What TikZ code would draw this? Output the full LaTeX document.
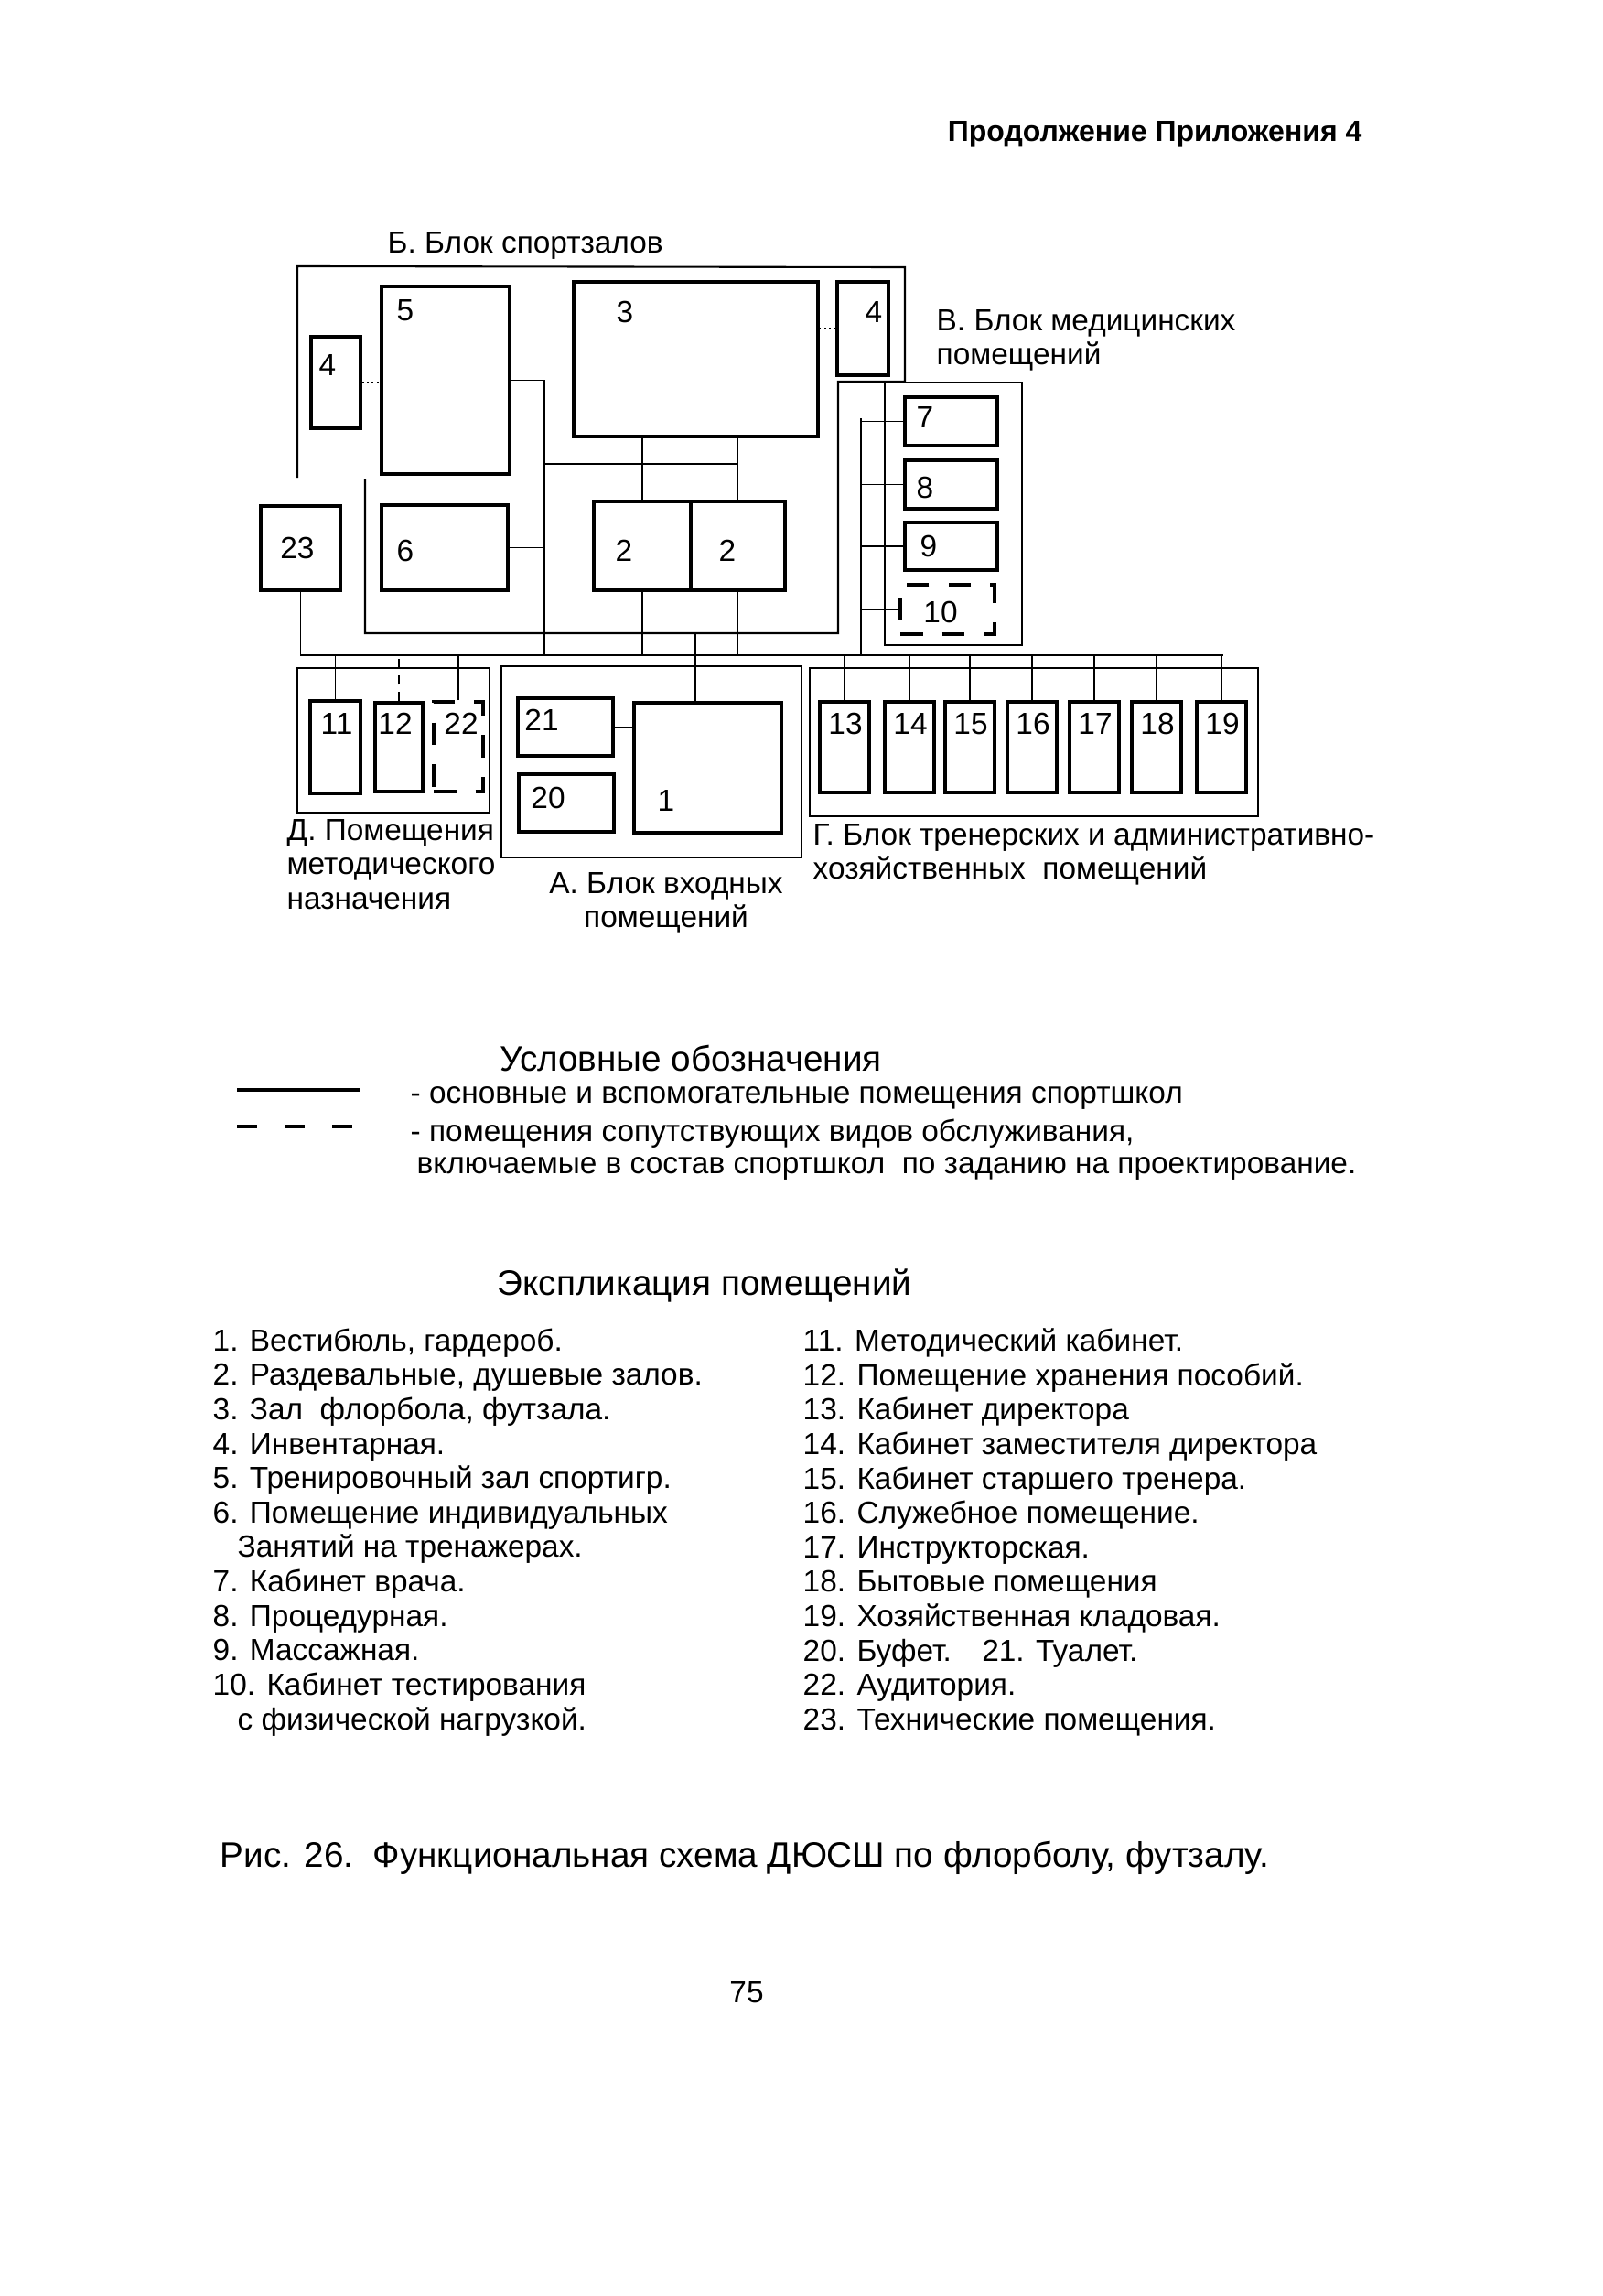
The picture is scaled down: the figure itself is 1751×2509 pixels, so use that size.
\documentclass[tikz,border=0pt]{standalone}
\usepackage{fontspec}
\setmainfont{Liberation Sans}
\usetikzlibrary{fit}

\tikzset{
  room/.style={draw, line width=1.1pt, inner sep=0pt},
  extraroom/.style={room, dash pattern=on 7pt off 6pt},
  blockframe/.style={draw, line width=0.6pt, inner sep=0pt},
  wire/.style={line width=0.5pt},
  num/.style={font=\fontsize{9.5}{11}\selectfont, inner sep=0pt},
  txt/.style={font=\fontsize{9.5}{10.6}\selectfont, inner sep=0pt, align=left},
  big/.style={font=\fontsize{11}{13}\selectfont, inner sep=0pt},
}

\begin{document}
\begin{tikzpicture}[x=0.01cm,y=-0.01cm]
  \fill[white] (0,0) rectangle (1751,2509);
  \useasboundingbox (0,0) rectangle (1751,2509);

  \node[anchor=east, font=\bfseries\fontsize{9.1}{11}\selectfont, inner sep=0pt] (head) at (1489,147) {Продолжение Приложения 4};

  % block frames
  \draw[line width=0.6pt] (325,522) -- (325,291) -- (989,292) -- (989,417) -- (916,417)
    -- (916,692) -- (399,692) -- (399,523);
  \node[blockframe, fit={(967,418) (1117,705)}] (blkV) {};
  \node[blockframe, fit={(325,730) (535,888)}] (blkD) {};
  \node[blockframe, fit={(548,728) (876,937)}] (blkA) {};
  \node[blockframe, fit={(885,730) (1375,892)}] (blkG) {};

  % rooms
  \node[room, fit={(340,368) (394,468)}] (r4a) {};
  \node[room, fit={(417,313) (557,518)}] (r5) {};
  \node[room, fit={(627,308) (894,477)}] (r3) {};
  \node[room, fit={(915,308) (971,410)}] (r4b) {};
  \node[room, fit={(649,548) (755,645)}] (r2a) {};
  \node[room, fit={(755,548) (858,645)}] (r2b) {};
  \node[room, fit={(417,552) (555,645)}] (r6) {};
  \node[room, fit={(285,553) (372,645)}] (r23) {};
  \node[room, fit={(989,434) (1090,487)}] (r7) {};
  \node[room, fit={(989,503) (1090,556)}] (r8) {};
  \node[room, fit={(989,571) (1090,623)}] (r9) {};
  \node[extraroom, fit={(984,639) (1087,693)}] (r10) {};
  \node[room, fit={(339,766) (394,867)}] (r11) {};
  \node[room, fit={(410,768) (462,865)}] (r12) {};
  \node[extraroom, fit={(474,767) (528,865)}] (r22) {};
  \node[room, fit={(566,763) (670,826)}] (r21) {};
  \node[room, fit={(567,846) (671,909)}] (r20) {};
  \node[room, fit={(693,768) (854,910)}] (r1) {};
  \foreach \n/\xa in {13/896,14/967,15/1033,16/1101,17/1169,18/1237,19/1308} {
    \node[room, fit={(\xa,767) (\xa+54,866)}] (r\n) {};
    \node[num] (n\n) at (\xa+28,791) {\n};
  }

  % room numbers
  \node[num] (n5) at (443,339) {5};
  \node[num] (n3) at (683,341) {3};
  \node[num] (n4b) at (955,341) {4};
  \node[num] (n4a) at (358,399) {4};
  \node[num] (n23) at (325,599) {23};
  \node[num] (n6) at (443,602) {6};
  \node[num] (n2a) at (682,602) {2};
  \node[num] (n2b) at (795,602) {2};
  \node[num] (n7) at (1011,456) {7};
  \node[num] (n8) at (1011,533) {8};
  \node[num] (n9) at (1015,597) {9};
  \node[num] (n10) at (1028,669) {10};
  \node[num] (n11) at (368,791) {11};
  \node[num] (n12) at (432,791) {12};
  \node[num] (n22) at (504,791) {22};
  \node[num] (n21) at (592,787) {21};
  \node[num] (n20) at (599,872) {20};
  \node[num] (n1) at (728,875) {1};

  % connections
  \coordinate (trunkL) at (325,716);
  \coordinate (trunkR) at (1337,716);
  \coordinate (hallx) at (595,408);
  \coordinate (link) at (595,507);
  \coordinate (entry) at (760,692);
  \coordinate (medx) at (941,457);
  \draw[wire] (r23.south) -- (r23.south |- trunkL) -- (trunkR);
  \draw[wire] (r5.east) -- (r5.east -| hallx) -- (hallx |- trunkL);
  \draw[wire] (r6.east) -- (r6.east -| hallx);
  \draw[wire] (r2a.north) -- (r2a.north |- r3.south);
  \draw[wire] (r2b.north) -- (r2b.north |- r3.south);
  \draw[wire] (link) -- (link -| r2b.north);
  \draw[wire] (r2a.south) -- (r2a.south |- trunkL);
  \draw[wire] (r2b.south) -- (r2b.south |- trunkL);
  \draw[wire] (entry) -- (entry |- r1.north);
  \draw[wire, densely dotted] (r4a.east) -- (r4a.east -| r5.west);
  \draw[wire, densely dotted] (r4b.west) -- (r4b.west -| r3.east);
  \draw[wire] (r21.east) -- (r21.east -| r1.west);
  \draw[wire, densely dotted] (r20.east) -- (r20.east -| r1.west);
  \draw[wire] (medx) -- (medx |- trunkL);
  \foreach \r in {r7,r8,r9,r10}
    \draw[wire] (\r.west) -- (\r.west -| medx);
  \draw[wire] (r11.north) -- (r11.north |- trunkL);
  \draw[wire, densely dashed] (r12.north) -- (r12.north |- trunkL);
  \draw[wire] (r22.north) -- (r22.north |- trunkL);
  \foreach \n in {13,...,19}
    \draw[wire] (r\n.north) -- (r\n.north |- trunkL);

  % block titles
  \node[txt, anchor=west] (tB) at (423,268) {Б. Блок спортзалов};
  \node[txt, anchor=north west] (tV) at (1023,338) {В. Блок медицинских\\помещений};
  \node[txt, anchor=north west] (tD) at (313,895) {Д. Помещения\\методического\\назначения};
  \node[txt, align=center, anchor=north] (tA) at (728,953) {А. Блок входных\\помещений};
  \node[txt, anchor=north west] (tG) at (888,900) {Г. Блок тренерских и административно-\\хозяйственных\ \ помещений};

  % legend
  \node[big] (legT) at (755,1156) {Условные обозначения};
  \coordinate (solA) at (259,1191);
  \coordinate (solB) at (394,1191);
  \coordinate (dshA) at (259,1231);
  \coordinate (dshB) at (394,1231);
  \draw[line width=1.2pt] (solA) -- (solB);
  \draw[line width=1.2pt, dash pattern=on 0.22cm off 0.3cm] (dshA) -- (dshB);
  \node[txt, anchor=west] (leg1) at (448,1200) {- основные и вспомогательные помещения спортшкол};
  \node[txt, anchor=west] (leg2) at (448,1239) {- помещения сопутствующих видов обслуживания,};
  \node[txt, anchor=west] (leg3) at (455,1277) {включаемые в состав спортшкол\ \ по заданию на проектирование.};

  % explication
  \node[big] (expT) at (770,1405) {Экспликация помещений};
  \node[txt, anchor=north west, font=\fontsize{9.5}{10.7}\selectfont] (expL) at (232,1451) {%
    1. Вестибюль, гардероб.\\
    2. Раздевальные, душевые залов.\\
    3. Зал\ \ флорбола, футзала.\\
    4. Инвентарная.\\
    5. Тренировочный зал спортигр.\\
    6. Помещение индивидуальных\\
    \hspace*{0.27cm}Занятий на тренажерах.\\
    7. Кабинет врача.\\
    8. Процедурная.\\
    9. Массажная.\\
    10. Кабинет тестирования\\
    \hspace*{0.27cm}с физической нагрузкой.};
  \node[txt, anchor=north west, font=\fontsize{9.5}{10.7}\selectfont] (expR) at (877,1451) {%
    11. Методический кабинет.\\
    12. Помещение хранения пособий.\\
    13. Кабинет директора\\
    14. Кабинет заместителя директора\\
    15. Кабинет старшего тренера.\\
    16. Служебное помещение.\\
    17. Инструкторская.\\
    18. Бытовые помещения\\
    19. Хозяйственная кладовая.\\
    20. Буфет.\quad 21. Туалет.\\
    22. Аудитория.\\
    23. Технические помещения.};

  \node[big, anchor=west] (caption) at (240,2030) {Рис. 26.\ \ Функциональная схема ДЮСШ по флорболу, футзалу.};
  \node[txt] (page) at (816,2177) {75};
\end{tikzpicture}
\end{document}
